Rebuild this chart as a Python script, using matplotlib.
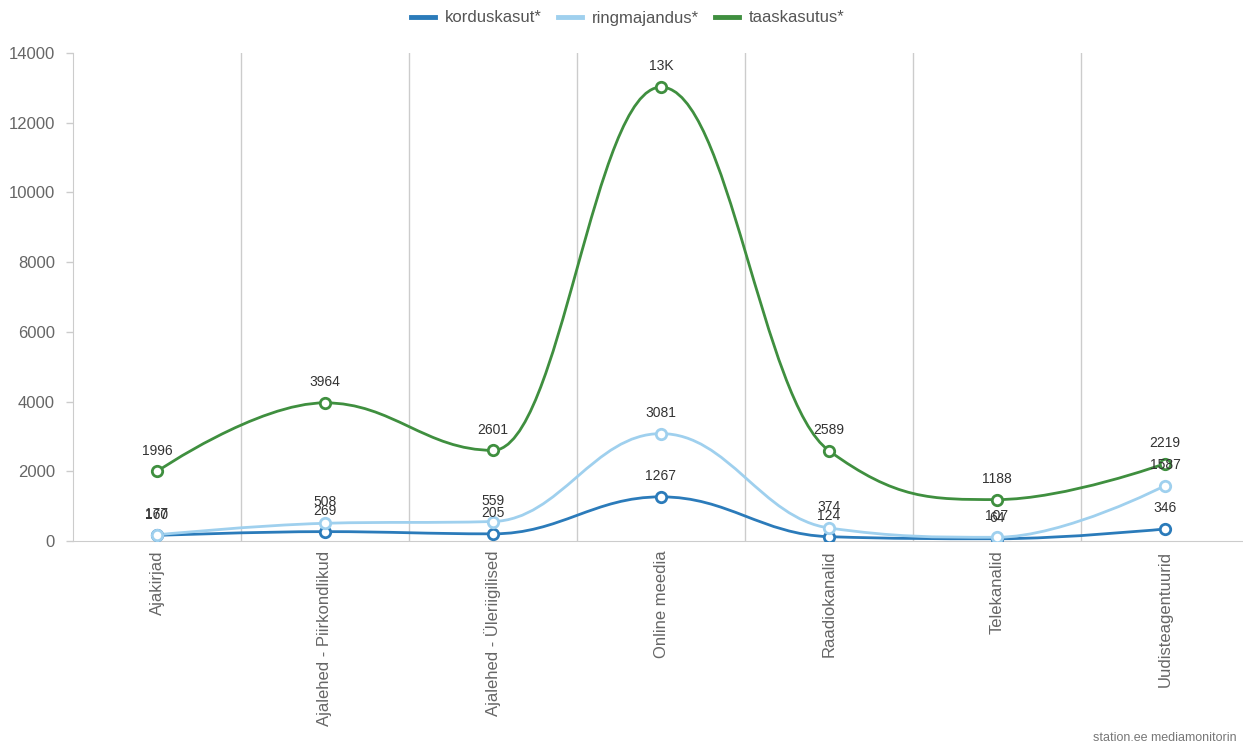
import matplotlib.pyplot as plt
import numpy as np
from matplotlib.path import Path
from matplotlib.patches import PathPatch
from matplotlib.lines import Line2D

plt.rcParams['font.family'] = ['Liberation Sans', 'DejaVu Sans']

categories = ['Ajakirjad', 'Ajalehed - Piirkondlikud', 'Ajalehed - Üleriigilised',
              'Online meedia', 'Raadiokanalid', 'Telekanalid', 'Uudisteagentuurid']
korduskasut = [160, 269, 205, 1267, 124, 64, 346]
ringmajandus = [177, 508, 559, 3081, 374, 107, 1587]
taaskasutus = [1996, 3964, 2601, 13021, 2589, 1188, 2219]

series_names = ['korduskasut*', 'ringmajandus*', 'taaskasutus*']
colors = ['#2b7bba', '#9fd0ee', '#3f8f3f']


def spline_path(xs, ys, smoothing=1.5):
    # cubic bezier segments with highcharts-style control points
    n = len(xs)
    left = [(xs[i], ys[i]) for i in range(n)]
    right = [(xs[i], ys[i]) for i in range(n)]
    d = smoothing + 1
    for i in range(1, n - 1):
        px, py = xs[i], ys[i]
        lx, ly = xs[i - 1], ys[i - 1]
        nx, ny = xs[i + 1], ys[i + 1]
        lcx = (smoothing * px + lx) / d
        lcy = (smoothing * py + ly) / d
        rcx = (smoothing * px + nx) / d
        rcy = (smoothing * py + ny) / d
        corr = (rcy - lcy) * (rcx - px) / (rcx - lcx) + py - rcy
        lcy += corr
        rcy += corr
        if lcy > ly and lcy > py:
            lcy = max(ly, py); rcy = 2 * py - lcy
        elif lcy < ly and lcy < py:
            lcy = min(ly, py); rcy = 2 * py - lcy
        if rcy > ny and rcy > py:
            rcy = max(ny, py); lcy = 2 * py - rcy
        elif rcy < ny and rcy < py:
            rcy = min(ny, py); lcy = 2 * py - rcy
        left[i] = (lcx, lcy)
        right[i] = (rcx, rcy)
    verts = [(xs[0], ys[0])]
    codes = [Path.MOVETO]
    for i in range(1, n):
        verts += [right[i - 1], left[i], (xs[i], ys[i])]
        codes += [Path.CURVE4] * 3
    return Path(verts, codes)


fig = plt.figure(figsize=(12.43, 7.48), dpi=100)
ax = fig.add_axes([73 / 1243, 1 - 541 / 748, 1176 / 1243, 488 / 748])

x = np.arange(len(categories))
data = [korduskasut, ringmajandus, taaskasutus]
for vals, c in zip(data, colors):
    ax.add_patch(PathPatch(spline_path(x, vals), fill=False, edgecolor=c,
                           lw=2.0, zorder=3, capstyle='round'))
    ax.plot(x, vals, 'o', ms=7.5, mfc='white', mec=c, mew=2.0, zorder=4)
    for xi, v in zip(x, vals):
        label = '13K' if v >= 10000 else str(v)
        ax.annotate(label, (xi, v), xytext=(0, 15), textcoords='offset points',
                    ha='center', va='center', fontsize=10, color='#333333', zorder=5)

ax.set_xlim(-0.5, len(categories) - 0.5)
ax.set_ylim(0, 14000)
ax.set_yticks(np.arange(0, 14001, 2000))
ax.set_xticks(x)
ax.set_xticklabels(categories, rotation=90, fontsize=12, color='#666666')
ax.tick_params(axis='x', length=0, pad=7)
ax.tick_params(axis='y', labelsize=12, labelcolor='#666666', color='#cccccc',
               length=5, width=1, pad=8)
for b in np.arange(0.5, len(categories) - 1, 1.0):
    ax.axvline(b, color='#cccccc', lw=1, zorder=1)
for s in ['top', 'right']:
    ax.spines[s].set_visible(False)
ax.spines['left'].set_color('#cccccc')
ax.spines['bottom'].set_color('#cccccc')

handles = [Line2D([0], [0], color=c, lw=3.5) for c in colors]
leg = fig.legend(handles, series_names, loc='center', bbox_to_anchor=(628 / 1243, 1 - 18 / 748),
                 ncol=3, frameon=False, fontsize=12, handlelength=1.4, handletextpad=0.6,
                 columnspacing=1.0)
for t in leg.get_texts():
    t.set_color('#555555')

fig.text(1237 / 1243, 1 - 741 / 748, 'station.ee mediamonitorin', ha='right', va='baseline',
         fontsize=9, color='#777777')

fig.savefig('out.png', dpi=100)
